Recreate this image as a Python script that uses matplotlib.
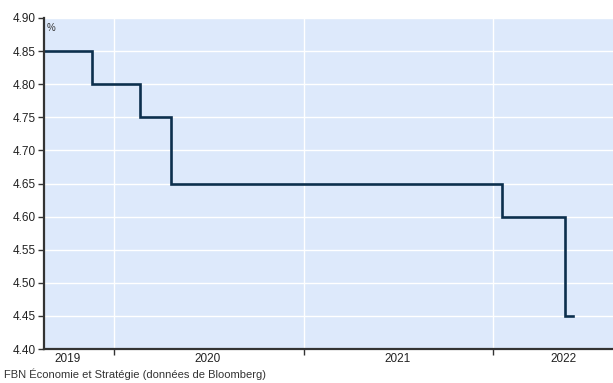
import matplotlib

matplotlib.use("Agg")
import matplotlib.pyplot as plt
import pandas as pd

plt.rcParams["font.family"] = ["Liberation Sans", "DejaVu Sans"]

# step dates and rate levels (%)
step_dates = ["2019-08-20", "2019-11-20", "2020-02-20", "2020-04-20",
              "2022-01-18", "2022-05-19", "2022-06-03"]
step_values = [4.85, 4.80, 4.75, 4.65, 4.60, 4.45, 4.45]

year_labels = ["2019", "2020", "2021", "2022"]
year_label_dates = ["2019-10-04", "2020-07-01", "2021-07-01", "2022-05-16"]
year_bounds = ["2020-01-01", "2021-01-01", "2022-01-01"]

BG = "#dde9fb"
LINE = "#0c2f4d"

fig = plt.figure(figsize=(6.13, 3.83), dpi=100)
ax = fig.add_axes([44 / 613, 34 / 383, 1 - 44 / 613, (349 - 18) / 383])
ax.set_facecolor(BG)

x = pd.to_datetime(step_dates)
ax.step(x, step_values, where="post", color=LINE, lw=1.9, solid_joinstyle="miter")

ax.set_xlim(pd.Timestamp("2019-08-20"), pd.Timestamp("2022-08-20"))
ax.set_ylim(4.40, 4.90)
ax.set_yticks([4.40 + 0.05 * i for i in range(11)])
ax.yaxis.set_major_formatter(plt.FormatStrFormatter("%.2f"))

ax.set_xticks(pd.to_datetime(year_bounds))
ax.set_xticklabels([])
ax.set_xticks(pd.to_datetime(year_label_dates), minor=True)
ax.set_xticklabels(year_labels, minor=True)
ax.tick_params(axis="x", which="minor", length=0, pad=3, labelsize=8.5, colors="#222222")
ax.tick_params(axis="x", which="major", length=4, width=1, color="#333333", direction="out")
ax.tick_params(axis="y", length=4, width=1, color="#333333", labelsize=8.5,
               labelcolor="#222222", pad=2)

ax.grid(True, which="major", color="white", lw=1)
ax.set_axisbelow(True)
for side in ("top", "right"):
    ax.spines[side].set_visible(False)
for side in ("left", "bottom"):
    ax.spines[side].set_color("#333333")
    ax.spines[side].set_linewidth(1.6)

ax.text(0.004, 0.985, "%", transform=ax.transAxes, ha="left", va="top",
        fontsize=7, color="#333333")

fig.text(4 / 613, 3 / 383, "FBN Économie et Stratégie (données de Bloomberg)",
         fontsize=8, color="#333333", ha="left", va="bottom")

fig.savefig("out.png", dpi=100)
